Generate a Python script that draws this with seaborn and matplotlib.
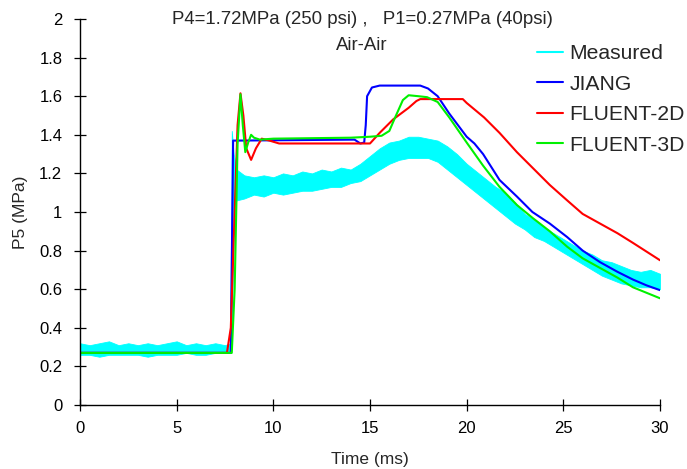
import matplotlib
matplotlib.use("Agg")
import matplotlib.pyplot as plt
import seaborn as sns
import pandas as pd

# ---------------- data ----------------
meas_t = [0, 0.5, 1.0, 1.5, 2.0, 2.5, 3.0, 3.5, 4.0, 4.5, 5.0, 5.5, 6.0, 6.5, 7.0, 7.5,
          7.8, 7.85, 7.95, 8.1, 8.5, 9.0, 9.5, 10, 10.5, 11, 11.5, 12, 12.5, 13, 13.5, 14,
          14.5, 15, 15.5, 16, 16.5, 17, 17.5, 18, 18.5, 19, 19.5, 20, 20.5, 21, 21.5, 22,
          22.5, 23, 23.5, 24, 24.5, 25, 25.5, 26, 26.5, 27, 27.5, 28, 28.5, 29, 29.5, 30]
meas_lo = [0.26, 0.26, 0.25, 0.26, 0.26, 0.26, 0.26, 0.25, 0.26, 0.26, 0.26, 0.27, 0.26, 0.26, 0.27, 0.27,
           0.27, 0.30, 1.05, 1.06, 1.07, 1.09, 1.08, 1.10, 1.09, 1.10, 1.11, 1.11, 1.12, 1.13, 1.13, 1.15,
           1.16, 1.19, 1.22, 1.25, 1.27, 1.28, 1.28, 1.28, 1.26, 1.22, 1.18, 1.14, 1.10, 1.06, 1.02, 0.98,
           0.94, 0.91, 0.87, 0.85, 0.82, 0.79, 0.76, 0.73, 0.70, 0.67, 0.65, 0.63, 0.62, 0.61, 0.61, 0.60]
meas_hi = [0.32, 0.31, 0.32, 0.33, 0.31, 0.32, 0.31, 0.32, 0.31, 0.32, 0.33, 0.31, 0.32, 0.31, 0.32, 0.31,
           0.32, 1.42, 1.30, 1.22, 1.19, 1.18, 1.19, 1.18, 1.20, 1.19, 1.21, 1.20, 1.22, 1.21, 1.23, 1.22,
           1.25, 1.29, 1.33, 1.36, 1.37, 1.39, 1.39, 1.38, 1.37, 1.34, 1.30, 1.25, 1.21, 1.17, 1.13, 1.10,
           1.05, 0.99, 0.96, 0.92, 0.89, 0.86, 0.83, 0.80, 0.78, 0.75, 0.74, 0.72, 0.70, 0.69, 0.70, 0.68]

jiang_t = [0, 7.8, 7.92, 8.1, 14.2, 14.5, 14.7, 14.78, 14.85, 15.1, 15.5, 17.6, 18.0, 18.5, 19.1,
           20.0, 20.4, 20.85, 21.7, 22.6, 23.4, 24.3, 25.2, 26.0, 26.9, 27.8, 28.6, 29.3, 30]
jiang_p = [0.27, 0.27, 1.37, 1.37, 1.375, 1.355, 1.36, 1.45, 1.60, 1.645, 1.655, 1.655, 1.64, 1.60, 1.51,
           1.39, 1.355, 1.30, 1.166, 1.08, 1.00, 0.94, 0.87, 0.80, 0.74, 0.69, 0.65, 0.62, 0.595]

f2d_t = [0, 7.6, 7.8, 8.0, 8.15, 8.3, 8.45, 8.6, 8.85, 9.1, 9.4, 9.8, 10.3, 15.0, 15.5, 16.2, 17.0,
         17.4, 17.6, 19.8, 20.0, 20.9, 21.7, 22.6, 23.4, 24.3, 25.2, 26.0, 26.9, 27.8, 28.6, 30]
f2d_p = [0.27, 0.27, 0.40, 1.00, 1.45, 1.615, 1.50, 1.33, 1.27, 1.33, 1.38, 1.37, 1.355, 1.355, 1.41,
         1.48, 1.54, 1.575, 1.585, 1.585, 1.565, 1.49, 1.41, 1.31, 1.23, 1.14, 1.06, 0.99, 0.94, 0.89,
         0.84, 0.75]

f3d_t = [0, 7.85, 8.0, 8.15, 8.3, 8.42, 8.55, 8.7, 8.85, 9.0, 9.3, 10, 14, 15.0, 15.6, 16.0, 16.3,
         16.7, 17.0, 17.5, 17.95, 18.5, 19.1, 20.0, 20.85, 21.7, 22.6, 23.4, 24.3, 25.2, 26.0, 26.9,
         27.8, 28.6, 30]
f3d_p = [0.27, 0.27, 0.60, 1.35, 1.61, 1.45, 1.31, 1.36, 1.40, 1.385, 1.375, 1.38, 1.385, 1.39, 1.395,
         1.42, 1.49, 1.58, 1.605, 1.60, 1.595, 1.57, 1.49, 1.36, 1.24, 1.13, 1.036, 0.97, 0.90, 0.82,
         0.76, 0.71, 0.66, 0.61, 0.553]

series_names = ["Measured", "JIANG", "FLUENT-2D", "FLUENT-3D"]
colors = ["#00ffff", "#0000ff", "#ff0000", "#00f000"]

x_ticks = [0, 5, 10, 15, 20, 25, 30]
y_ticks = [0, 0.2, 0.4, 0.6, 0.8, 1.0, 1.2, 1.4, 1.6, 1.8, 2.0]
y_tick_labels = ["0", "0.2", "0.4", "0.6", "0.8", "1", "1.2", "1.4", "1.6", "1.8", "2"]

title_1 = "P4=1.72MPa (250 psi) ,   P1=0.27MPa (40psi)"
title_2 = "Air-Air"

# ---------------- figure ----------------
sns.set_theme(style="ticks")
plt.rcParams["font.family"] = ["Liberation Sans", "DejaVu Sans"]

W, H = 687, 469
fig = plt.figure(figsize=(W / 100, H / 100), dpi=100)
ax = fig.add_axes([80 / W, 1 - 405 / H, 580 / W, 386 / H])

# measured band + centre line
ax.fill_between(meas_t, meas_lo, meas_hi, color=colors[0], lw=0.6, edgecolor=colors[0])
meas_mid = pd.DataFrame({"t": meas_t, "p": [(a + b) / 2 for a, b in zip(meas_lo, meas_hi)]})
sns.lineplot(data=meas_mid, x="t", y="p", ax=ax, color=colors[0], lw=1.0, label=series_names[0])

for name, t, p, c in [("JIANG", jiang_t, jiang_p, colors[1]),
                      ("FLUENT-2D", f2d_t, f2d_p, colors[2]),
                      ("FLUENT-3D", f3d_t, f3d_p, colors[3])]:
    df = pd.DataFrame({"t": t, "p": p})
    sns.lineplot(data=df, x="t", y="p", ax=ax, color=c, lw=1.5, label=name, sort=False)

ax.set_xlim(0, 30)
ax.set_ylim(0, 2)
ax.set_xticks(x_ticks)
ax.set_xticklabels([str(v) for v in x_ticks])
ax.set_yticks(y_ticks)
ax.set_yticklabels(y_tick_labels)

for s in ["top", "right"]:
    ax.spines[s].set_visible(False)
for s in ["left", "bottom"]:
    ax.spines[s].set_color("black")
    ax.spines[s].set_linewidth(1.0)
ax.xaxis.set_tick_params(which="major", bottom=True, direction="inout", length=8.5, width=0.9,
                         color="black", labelcolor="black", labelsize=12, pad=7.5)
ax.yaxis.set_tick_params(which="major", left=True, direction="inout", length=8.5, width=0.9,
                         color="black", labelcolor="black", labelsize=12, pad=8.5)

ax.set_xlabel("Time (ms)", fontsize=12.5, labelpad=11)
ax.set_ylabel("P5 (MPa)", fontsize=12.5, labelpad=8)

fig.text(362 / W, 1 - 20 / H, title_1, ha="center", va="center", fontsize=13.4)
fig.text(362 / W, 1 - 45 / H, title_2, ha="center", va="center", fontsize=13.4)

leg = ax.legend(loc="upper left", bbox_to_anchor=(537 / W, 1 - 44 / H),
                bbox_transform=fig.transFigure, frameon=False, fontsize=15.2,
                handlelength=1.25, handletextpad=0.3, labelspacing=0.55,
                borderaxespad=0, borderpad=0)
for line in leg.get_lines():
    line.set_linewidth(1.5)

fig.savefig("out.png", dpi=100)
